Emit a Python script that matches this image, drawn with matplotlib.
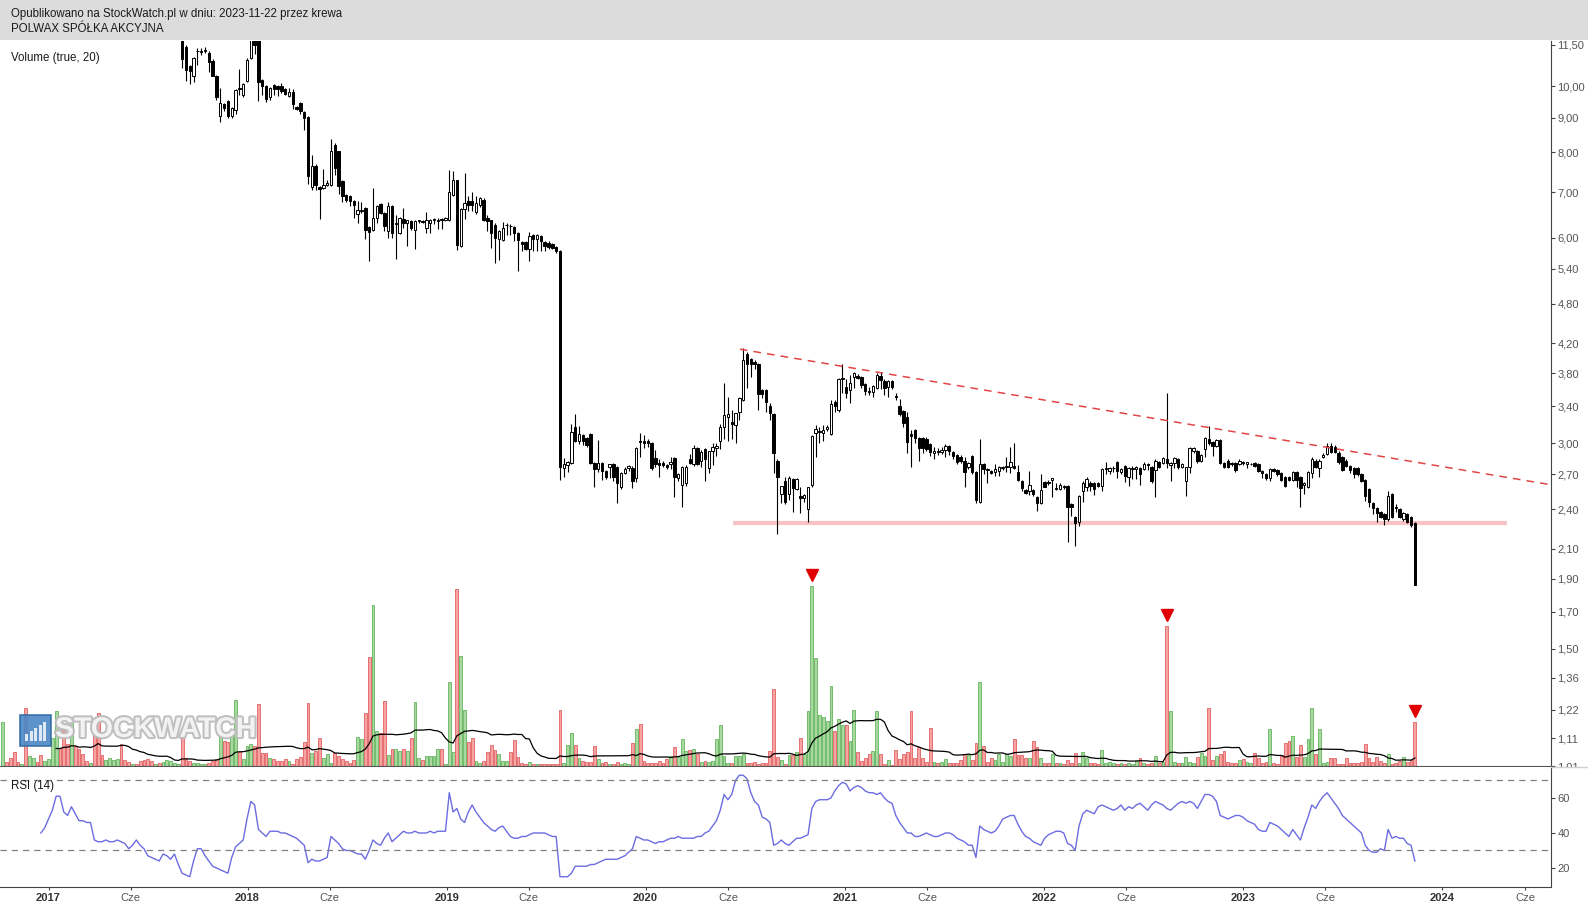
import matplotlib
matplotlib.use("Agg")
import matplotlib.pyplot as plt
import matplotlib.dates as mdates
import matplotlib.patheffects as pe
from matplotlib.patches import Rectangle
from matplotlib.lines import Line2D
from matplotlib.ticker import NullLocator
import numpy as np
import pandas as pd

plt.rcParams['font.family'] = ['Liberation Sans', 'DejaVu Sans']

W, H = 1588, 905

# -----------------------------
# Data (weekly bars)
# -----------------------------
week_dates = pd.date_range('2016-10-09', periods=371, freq='7D')

# volume of every week (bar height units)
volumes = [
    44, 4, 8, 14, 4, 2, 58, 10, 8, 4,
    11, 5, 7, 28, 55, 18, 37, 22, 44, 20,
    17, 12, 5, 3, 32, 53, 11, 6, 8, 6,
    7, 22, 6, 4, 2, 2, 5, 6, 7, 5,
    2, 3, 4, 6, 5, 3, 2, 37, 8, 5,
    3, 3, 2, 2, 3, 5, 7, 33, 25, 24,
    32, 66, 14, 7, 20, 22, 20, 62, 13, 13,
    8, 7, 5, 5, 7, 5, 2, 7, 9, 24,
    63, 13, 15, 28, 8, 12, 3, 13, 10, 7,
    5, 3, 6, 29, 27, 53, 109, 161, 35, 33,
    65, 11, 17, 17, 15, 17, 15, 28, 64, 8,
    6, 10, 10, 10, 17, 17, 2, 84, 14, 177,
    110, 56, 24, 28, 5, 3, 5, 14, 21, 16,
    12, 5, 5, 14, 26, 9, 3, 2, 4, 2,
    2, 2, 2, 2, 2, 2, 56, 3, 21, 33,
    21, 8, 5, 4, 4, 20, 7, 3, 4, 2,
    2, 4, 2, 3, 2, 23, 37, 42, 5, 3,
    3, 3, 5, 3, 7, 10, 19, 9, 27, 15,
    16, 17, 12, 4, 5, 4, 5, 27, 41, 10,
    3, 3, 10, 10, 12, 3, 3, 4, 2, 3,
    3, 15, 77, 9, 6, 2, 11, 11, 14, 28,
    12, 55, 180, 108, 51, 49, 45, 80, 35, 47,
    41, 41, 25, 56, 14, 5, 8, 12, 15, 55,
    12, 2, 6, 1, 16, 7, 12, 14, 55, 8,
    19, 8, 4, 38, 4, 3, 4, 7, 3, 3,
    3, 6, 12, 11, 6, 23, 84, 20, 4, 8,
    6, 12, 4, 12, 10, 27, 11, 11, 8, 8,
    25, 19, 8, 3, 3, 12, 3, 3, 2, 6,
    3, 13, 3, 14, 8, 3, 3, 2, 16, 3,
    4, 3, 2, 3, 2, 3, 2, 5, 8, 3,
    2, 3, 10, 3, 4, 140, 55, 4, 3, 3,
    9, 4, 3, 9, 13, 10, 58, 6, 10, 12,
    15, 4, 3, 3, 6, 7, 4, 3, 13, 8,
    3, 4, 37, 3, 2, 11, 23, 25, 30, 9,
    21, 9, 27, 58, 12, 37, 3, 4, 8, 8,
    2, 2, 8, 3, 3, 3, 4, 22, 8, 4,
    9, 5, 3, 12, 2, 3, 5, 9, 4, 6,
    44,
]
# direction of the weeks before the first visible candle
early_dirs = "GRRRRGRGGRRGGGGRRRGRRRRGRRRGGGGRRRGRRRRRGRGGGGG"
alert_weeks = [212, 305, 370]

# candles, visible from week 47 on
price_start = 47
opens = [
    11.90, 11.40, 10.71, 10.34, 11.25, 11.24, 11.28, 11.18, 10.90, 10.37,
    9.06, 9.42, 9.50, 9.06, 9.24, 9.93, 9.70, 10.19, 11.00, 11.90,
    11.80, 10.22, 10.02, 9.63, 10.05, 10.02, 10.02, 9.91, 9.67, 9.80,
    9.32, 9.45, 9.17, 9.03, 7.13, 7.65, 7.12, 7.09, 7.17, 7.17,
    8.21, 8.03, 7.27, 6.93, 6.91, 6.80, 6.51, 6.56, 6.63, 6.22,
    6.16, 6.41, 6.73, 6.52, 6.14, 6.68, 6.28, 6.10, 6.39, 6.30,
    6.34, 6.16, 6.34, 6.34, 6.20, 6.30, 6.36, 6.35, 6.40, 6.38,
    6.36, 6.92, 7.28, 5.84, 6.62, 6.80, 6.80, 6.54, 6.70, 6.82,
    6.41, 6.36, 6.27, 5.98, 5.96, 6.26, 6.25, 6.22, 6.10, 5.91,
    5.91, 5.77, 6.06, 5.98, 6.03, 5.91, 5.89, 5.88, 5.81, 5.73,
    2.76, 2.79, 2.81, 3.17, 3.02, 3.08, 3.05, 3.10, 2.81, 2.75,
    2.81, 2.73, 2.77, 2.80, 2.77, 2.59, 2.71, 2.76, 2.76, 2.67,
    3.02, 3.02, 3.02, 3.00, 2.85, 2.81, 2.81, 2.79, 2.80, 2.85,
    2.67, 2.61, 2.62, 2.84, 2.80, 2.95, 2.83, 2.94, 2.76, 2.92,
    2.95, 3.02, 3.17, 3.28, 3.22, 3.19, 3.33, 3.47, 4.06, 3.98,
    3.95, 3.92, 3.59, 3.59, 3.40, 3.31, 2.83, 2.53, 2.64, 2.53,
    2.66, 2.57, 2.51, 2.49, 2.40, 2.61, 3.11, 3.12, 3.11, 3.15,
    3.10, 3.45, 3.36, 3.72, 3.63, 3.59, 3.75, 3.76, 3.75, 3.66,
    3.58, 3.56, 3.62, 3.77, 3.70, 3.63, 3.70, 3.52, 3.40, 3.35,
    3.28, 3.09, 3.14, 3.05, 3.05, 3.04, 2.99, 2.90, 2.92, 2.91,
    2.93, 2.97, 2.91, 2.88, 2.86, 2.83, 2.77, 2.87, 2.72, 2.46,
    2.80, 2.75, 2.73, 2.72, 2.73, 2.76, 2.77, 2.77, 2.78, 2.72,
    2.64, 2.56, 2.55, 2.56, 2.50, 2.45, 2.63, 2.63, 2.65, 2.58,
    2.57, 2.60, 2.60, 2.44, 2.34, 2.30, 2.55, 2.59, 2.62, 2.62,
    2.62, 2.60, 2.75, 2.73, 2.76, 2.82, 2.72, 2.78, 2.68, 2.75,
    2.75, 2.76, 2.75, 2.80, 2.77, 2.74, 2.82, 2.81, 2.84, 2.79,
    2.81, 2.84, 2.77, 2.64, 2.77, 2.92, 2.92, 2.83, 2.94, 3.04,
    3.01, 2.97, 3.03, 2.81, 2.83, 2.81, 2.81, 2.80, 2.82, 2.80,
    2.80, 2.81, 2.80, 2.73, 2.70, 2.67, 2.75, 2.74, 2.71, 2.68,
    2.68, 2.65, 2.72, 2.68, 2.61, 2.59, 2.71, 2.83, 2.76, 2.86,
    2.89, 2.97, 2.96, 2.90, 2.86, 2.83, 2.78, 2.76, 2.76, 2.70,
    2.65, 2.57, 2.45, 2.41, 2.38, 2.36, 2.32, 2.53, 2.42, 2.40,
    2.32, 2.36, 2.34, 2.29,
]
highs = [
    12.10, 11.50, 10.75, 11.05, 11.37, 11.37, 11.40, 11.25, 10.95, 10.40,
    9.94, 9.45, 9.55, 9.32, 9.90, 10.60, 10.10, 11.00, 12.00, 12.00,
    11.90, 10.25, 10.05, 9.96, 10.08, 10.04, 10.10, 9.93, 9.94, 9.92,
    9.35, 9.48, 9.20, 9.05, 7.94, 7.70, 7.15, 7.56, 7.30, 8.37,
    8.25, 8.05, 7.30, 6.95, 6.93, 6.82, 6.80, 6.78, 6.66, 6.25,
    7.09, 6.71, 6.75, 6.54, 6.78, 6.70, 6.48, 6.43, 6.63, 6.38,
    6.36, 6.37, 6.38, 6.36, 6.54, 6.40, 6.42, 6.42, 6.42, 6.44,
    7.54, 7.52, 7.30, 6.63, 7.47, 6.90, 7.01, 6.90, 6.88, 6.85,
    6.48, 6.38, 6.30, 6.16, 6.32, 6.31, 6.28, 6.24, 6.12, 5.93,
    5.93, 6.11, 6.08, 6.07, 6.05, 5.93, 5.93, 5.90, 5.83, 5.75,
    2.85, 2.83, 3.20, 3.31, 3.18, 3.09, 3.06, 3.11, 2.82, 3.03,
    2.82, 2.74, 2.80, 2.81, 2.78, 2.72, 2.77, 2.79, 2.78, 2.96,
    3.11, 3.08, 3.04, 3.01, 2.93, 2.84, 2.83, 2.80, 2.86, 2.86,
    2.71, 2.78, 2.79, 2.89, 2.98, 2.96, 2.93, 2.95, 2.92, 3.00,
    3.00, 3.20, 3.68, 3.51, 3.36, 3.32, 3.51, 4.14, 4.08, 4.00,
    3.97, 3.93, 3.60, 3.60, 3.44, 3.32, 2.84, 2.60, 2.68, 2.69,
    2.67, 2.67, 2.59, 2.53, 2.59, 3.08, 3.19, 3.17, 3.19, 3.19,
    3.47, 3.47, 3.74, 3.92, 3.72, 3.78, 3.82, 3.79, 3.77, 3.68,
    3.63, 3.65, 3.80, 3.81, 3.73, 3.71, 3.71, 3.55, 3.48, 3.36,
    3.33, 3.14, 3.15, 3.06, 3.06, 3.06, 3.00, 2.96, 2.95, 2.96,
    2.99, 2.98, 2.92, 2.89, 2.88, 2.86, 2.82, 2.88, 2.73, 3.04,
    2.81, 2.76, 2.74, 2.80, 2.78, 2.78, 2.86, 2.96, 3.00, 2.79,
    2.65, 2.57, 2.73, 2.57, 2.51, 2.70, 2.64, 2.65, 2.67, 2.62,
    2.62, 2.61, 2.61, 2.45, 2.35, 2.52, 2.64, 2.68, 2.64, 2.63,
    2.63, 2.76, 2.82, 2.77, 2.78, 2.83, 2.76, 2.79, 2.77, 2.78,
    2.78, 2.77, 2.82, 2.81, 2.78, 2.84, 2.83, 2.86, 3.55, 2.82,
    2.86, 2.85, 2.81, 2.77, 2.96, 2.96, 2.93, 2.89, 3.06, 3.18,
    3.02, 3.04, 3.04, 2.82, 2.84, 2.82, 2.82, 2.84, 2.83, 2.82,
    2.81, 2.82, 2.81, 2.74, 2.71, 2.76, 2.76, 2.75, 2.72, 2.69,
    2.69, 2.73, 2.73, 2.69, 2.63, 2.73, 2.86, 2.84, 2.84, 2.90,
    3.00, 3.00, 2.98, 2.92, 2.87, 2.84, 2.79, 2.77, 2.77, 2.71,
    2.66, 2.58, 2.46, 2.42, 2.39, 2.37, 2.55, 2.54, 2.44, 2.41,
    2.38, 2.37, 2.35, 2.30,
]
lows = [
    10.65, 10.18, 10.09, 10.16, 10.75, 11.12, 11.18, 10.48, 10.34, 9.56,
    8.88, 9.20, 9.00, 9.00, 9.10, 9.72, 9.65, 10.15, 10.95, 11.15,
    9.50, 9.72, 9.47, 9.55, 9.72, 9.67, 9.78, 9.70, 9.64, 9.27,
    9.22, 9.10, 8.64, 7.20, 7.05, 7.05, 6.39, 7.07, 7.15, 7.15,
    7.42, 6.96, 6.78, 6.78, 6.67, 6.41, 6.30, 6.52, 5.98, 5.54,
    6.14, 6.30, 6.50, 6.13, 6.00, 6.00, 5.59, 6.08, 6.20, 5.83,
    6.15, 5.78, 6.30, 6.30, 6.10, 6.10, 6.28, 6.17, 6.17, 6.34,
    6.34, 6.90, 5.76, 5.82, 6.40, 6.56, 6.56, 6.49, 6.65, 6.34,
    6.13, 5.80, 5.51, 5.57, 5.94, 6.06, 6.06, 5.93, 5.36, 5.73,
    5.76, 5.55, 5.73, 5.73, 5.74, 5.73, 5.78, 5.77, 5.70, 2.65,
    2.68, 2.72, 2.80, 3.01, 2.99, 2.98, 2.96, 2.80, 2.59, 2.72,
    2.65, 2.66, 2.67, 2.64, 2.45, 2.57, 2.70, 2.73, 2.58, 2.63,
    2.86, 2.95, 2.96, 2.74, 2.77, 2.68, 2.77, 2.75, 2.75, 2.50,
    2.64, 2.42, 2.60, 2.80, 2.78, 2.79, 2.77, 2.64, 2.71, 2.79,
    2.87, 2.94, 3.04, 3.02, 3.04, 3.00, 3.24, 3.46, 3.61, 3.75,
    3.85, 3.36, 3.50, 3.33, 3.24, 2.71, 2.21, 2.45, 2.44, 2.48,
    2.38, 2.56, 2.37, 2.46, 2.30, 2.59, 2.86, 3.00, 3.02, 3.13,
    3.08, 3.33, 3.33, 3.55, 3.50, 3.44, 3.62, 3.73, 3.62, 3.53,
    3.53, 3.51, 3.60, 3.60, 3.53, 3.51, 3.60, 3.47, 3.29, 3.17,
    2.90, 2.77, 3.00, 2.83, 2.90, 2.92, 2.87, 2.84, 2.88, 2.89,
    2.86, 2.88, 2.84, 2.80, 2.81, 2.59, 2.75, 2.70, 2.45, 2.45,
    2.70, 2.62, 2.70, 2.69, 2.69, 2.74, 2.72, 2.71, 2.75, 2.64,
    2.55, 2.53, 2.52, 2.51, 2.39, 2.44, 2.59, 2.61, 2.50, 2.56,
    2.56, 2.57, 2.15, 2.35, 2.12, 2.27, 2.46, 2.55, 2.55, 2.52,
    2.59, 2.55, 2.70, 2.70, 2.72, 2.67, 2.70, 2.63, 2.60, 2.66,
    2.66, 2.61, 2.74, 2.74, 2.62, 2.50, 2.76, 2.80, 2.76, 2.64,
    2.76, 2.75, 2.76, 2.51, 2.71, 2.90, 2.81, 2.82, 2.86, 2.98,
    2.87, 2.96, 2.80, 2.76, 2.76, 2.78, 2.72, 2.79, 2.79, 2.76,
    2.79, 2.77, 2.72, 2.67, 2.65, 2.64, 2.72, 2.69, 2.64, 2.59,
    2.64, 2.64, 2.59, 2.42, 2.53, 2.58, 2.67, 2.76, 2.68, 2.85,
    2.88, 2.90, 2.90, 2.80, 2.73, 2.77, 2.71, 2.67, 2.69, 2.63,
    2.47, 2.42, 2.36, 2.30, 2.33, 2.28, 2.31, 2.33, 2.38, 2.33,
    2.31, 2.29, 2.26, 1.86,
]
closes = [
    10.97, 10.57, 10.53, 11.00, 11.27, 11.25, 11.30, 10.84, 10.37, 9.63,
    9.45, 9.29, 9.06, 9.29, 9.88, 9.90, 10.07, 10.93, 11.90, 11.50,
    10.16, 10.02, 9.58, 9.94, 9.91, 9.91, 9.85, 9.74, 9.80, 9.43,
    9.27, 9.19, 9.00, 7.38, 7.63, 7.17, 7.08, 7.17, 7.22, 8.05,
    7.58, 7.15, 6.90, 6.82, 6.80, 6.70, 6.58, 6.59, 6.16, 6.11,
    6.41, 6.67, 6.52, 6.25, 6.68, 6.10, 6.30, 6.41, 6.30, 6.36,
    6.19, 6.34, 6.36, 6.32, 6.36, 6.38, 6.40, 6.38, 6.38, 6.41,
    7.01, 7.28, 5.86, 6.61, 6.74, 6.71, 6.70, 6.75, 6.86, 6.38,
    6.34, 6.10, 5.99, 6.14, 6.20, 6.27, 6.24, 6.10, 5.96, 5.88,
    5.77, 6.04, 5.98, 6.05, 5.93, 5.84, 5.81, 5.79, 5.73, 2.77,
    2.80, 2.82, 3.12, 3.02, 3.09, 3.02, 2.98, 2.81, 2.75, 2.81,
    2.73, 2.68, 2.80, 2.68, 2.62, 2.71, 2.75, 2.78, 2.64, 2.95,
    3.01, 3.00, 3.00, 2.76, 2.80, 2.79, 2.79, 2.77, 2.82, 2.68,
    2.70, 2.77, 2.77, 2.81, 2.95, 2.80, 2.91, 2.84, 2.92, 2.96,
    2.97, 3.17, 3.30, 3.31, 3.20, 3.32, 3.49, 3.97, 3.92, 3.92,
    3.92, 3.54, 3.54, 3.45, 3.32, 2.90, 2.68, 2.60, 2.46, 2.67,
    2.58, 2.66, 2.49, 2.52, 2.59, 3.07, 3.15, 3.13, 3.14, 3.17,
    3.43, 3.40, 3.72, 3.74, 3.55, 3.68, 3.80, 3.74, 3.65, 3.58,
    3.57, 3.64, 3.78, 3.71, 3.62, 3.70, 3.63, 3.51, 3.31, 3.21,
    3.01, 3.07, 3.05, 2.95, 2.95, 2.94, 2.91, 2.92, 2.91, 2.93,
    2.97, 2.92, 2.87, 2.82, 2.83, 2.72, 2.81, 2.72, 2.48, 2.80,
    2.75, 2.74, 2.71, 2.75, 2.77, 2.77, 2.78, 2.82, 2.76, 2.65,
    2.58, 2.54, 2.61, 2.53, 2.45, 2.56, 2.59, 2.62, 2.67, 2.57,
    2.61, 2.59, 2.42, 2.42, 2.29, 2.51, 2.62, 2.66, 2.60, 2.57,
    2.60, 2.75, 2.76, 2.76, 2.76, 2.73, 2.75, 2.69, 2.76, 2.76,
    2.77, 2.70, 2.80, 2.79, 2.64, 2.83, 2.77, 2.85, 2.81, 2.81,
    2.85, 2.77, 2.80, 2.77, 2.95, 2.95, 2.83, 2.88, 3.05, 3.00,
    2.97, 3.03, 2.81, 2.77, 2.77, 2.80, 2.74, 2.83, 2.81, 2.82,
    2.80, 2.78, 2.73, 2.71, 2.67, 2.75, 2.73, 2.70, 2.65, 2.60,
    2.65, 2.72, 2.65, 2.58, 2.62, 2.72, 2.84, 2.77, 2.83, 2.88,
    2.97, 2.91, 2.91, 2.82, 2.74, 2.78, 2.74, 2.70, 2.70, 2.64,
    2.51, 2.46, 2.41, 2.37, 2.34, 2.32, 2.51, 2.34, 2.41, 2.34,
    2.37, 2.30, 2.28, 1.86,
]

# RSI(14), from week 10 on
rsi_start = 10
rsi = [
    40, 43, 48, 53, 61, 61, 52, 50, 55, 51,
    47, 47, 46, 46, 36, 35, 35, 36, 35, 35,
    36, 35, 34, 31, 33, 36, 33, 31, 27, 26,
    25, 24, 28, 27, 25, 28, 22, 17, 16, 15,
    24, 31, 31, 27, 24, 21, 20, 19, 18, 17,
    26, 32, 34, 36, 48, 58, 56, 42, 40, 38,
    41, 41, 41, 40, 40, 39, 38, 37, 35, 33,
    23, 25, 24, 24, 25, 26, 38, 36, 34, 31,
    30, 30, 29, 28, 28, 25, 30, 36, 34, 33,
    37, 40, 35, 37, 39, 41, 40, 40, 41, 40,
    40, 40, 41, 40, 41, 41, 41, 63, 52, 54,
    48, 46, 52, 56, 52, 49, 46, 44, 42, 41,
    43, 44, 41, 38, 37, 37, 38, 38, 39, 40,
    40, 40, 40, 39, 38, 38, 15, 15, 15, 17,
    21, 21, 21, 21, 22, 22, 23, 24, 25, 25,
    25, 25, 26, 27, 29, 31, 38, 37, 36, 36,
    35, 34, 35, 35, 36, 37, 37, 38, 37, 37,
    37, 37, 38, 38, 40, 41, 44, 47, 53, 62,
    59, 62, 70, 73, 73, 71, 63, 58, 56, 49,
    48, 46, 33, 34, 36, 34, 33, 35, 37, 37,
    38, 39, 54, 58, 59, 59, 59, 60, 64, 67,
    69, 68, 64, 66, 67, 66, 64, 63, 63, 62,
    63, 60, 58, 57, 50, 46, 43, 40, 40, 38,
    38, 39, 40, 39, 38, 38, 39, 40, 40, 39,
    37, 36, 35, 33, 33, 26, 44, 42, 41, 40,
    41, 44, 48, 49, 50, 50, 45, 41, 38, 37,
    35, 34, 33, 37, 39, 40, 41, 41, 40, 34,
    33, 30, 44, 51, 53, 52, 51, 55, 56, 55,
    54, 53, 54, 56, 53, 55, 54, 56, 57, 55,
    53, 56, 58, 57, 56, 54, 53, 55, 57, 58,
    57, 58, 57, 54, 58, 62, 62, 61, 58, 50,
    49, 48, 49, 50, 50, 49, 47, 46, 45, 42,
    41, 41, 46, 45, 44, 42, 40, 38, 42, 39,
    36, 43, 49, 56, 54, 58, 61, 63, 60, 57,
    54, 50, 48, 46, 44, 42, 40, 33, 30, 29,
    29, 31, 30, 42, 37, 38, 37, 37, 34, 33, 24,
]

# drawn lines: falling resistance and support
trend_dates = ['2020-06-22', '2024-07-16']
trend_prices = [4.12, 2.61]
support_dates = ['2020-06-10', '2024-04-29']
support_prices = [2.293, 2.293]

price_ticks = [1.01, 1.11, 1.22, 1.36, 1.50, 1.70, 1.90, 2.10, 2.40, 2.70, 3.00,
               3.40, 3.80, 4.20, 4.80, 5.40, 6.00, 7.00, 8.00, 9.00, 10.00, 11.50]
rsi_ticks = [20, 40, 60]
year_labels = ['2017', '2018', '2019', '2020', '2021', '2022', '2023', '2024']
month_labels = ['Cze'] * 8

header_1 = "Opublikowano na StockWatch.pl w dniu: 2023-11-22 przez krewa"
header_2 = "POLWAX SPÓŁKA AKCYJNA"

# -----------------------------
# Layout
# -----------------------------
def fig_box(x0, y0, x1, y1):
    return [x0 / W, 1 - y1 / H, (x1 - x0) / W, (y1 - y0) / H]

fig = plt.figure(figsize=(W / 100, H / 100), dpi=100)
fig.patch.set_facecolor('white')

ax_v = fig.add_axes(fig_box(0, 40.5, 1551, 766), zorder=1)
ax_p = fig.add_axes(fig_box(0, 40.5, 1551, 766), zorder=2)
ax_r = fig.add_axes(fig_box(0, 767, 1551, 887), zorder=3)
ax_p.patch.set_visible(False)

x_all = mdates.date2num(week_dates)
xlim = (mdates.date2num(pd.Timestamp('2016-10-04')),
        mdates.date2num(pd.Timestamp('2024-07-18 16:00')))
for ax in (ax_v, ax_p, ax_r):
    ax.set_xlim(*xlim)

# -----------------------------
# Volume
# -----------------------------
o = np.array(opens)
h = np.array(highs)
l = np.array(lows)
c = np.array(closes)
up = c >= o
vol = np.array(volumes, dtype=float)
vol_up = np.array([d == 'G' for d in early_dirs] + list(up))

ax_v.bar(x_all[vol_up], vol[vol_up], width=5.2, color='#a9d9a1',
         edgecolor='#62b45c', linewidth=0.6, zorder=2)
ax_v.bar(x_all[~vol_up], vol[~vol_up], width=5.2, color='#f6a3a3',
         edgecolor='#e26262', linewidth=0.6, zorder=2)
vol_ma = pd.Series(vol).rolling(20, min_periods=15).mean()
ax_v.plot(x_all, vol_ma, color='black', lw=0.9, zorder=3)
ax_v.plot(x_all[alert_weeks], vol[alert_weeks] + 11, ls='none', marker='v',
          ms=9, color='#e00000', zorder=4)
ax_v.set_ylim(0, 725.5)
ax_v.axis('off')

# -----------------------------
# Candles
# -----------------------------
xp = x_all[price_start:price_start + len(closes)]
ax_p.set_yscale('log')
ax_p.plot(mdates.date2num(pd.to_datetime(support_dates)), support_prices,
          color='#f9c3c3', lw=3.0, solid_capstyle='butt', zorder=1)
ax_p.vlines(xp, l, h, color='black', lw=0.8, zorder=2)
lo = np.minimum(o, c)
hi = np.maximum(o, c)
ax_p.bar(xp[up], hi[up] - lo[up], bottom=lo[up], width=4.4, color='white',
         edgecolor='black', linewidth=0.7, zorder=3)
ax_p.bar(xp[~up], hi[~up] - lo[~up], bottom=lo[~up], width=4.4, color='black',
         edgecolor='black', linewidth=0.7, zorder=3)
ax_p.plot(mdates.date2num(pd.to_datetime(trend_dates)), trend_prices,
          color='#e04646', lw=1.1, ls=(0, (5, 4)), zorder=4)

ax_p.set_ylim(1.01, 11.67)
ax_p.yaxis.tick_right()
ax_p.set_yticks(price_ticks)
ax_p.set_yticklabels([f"{v:.2f}".replace('.', ',') for v in price_ticks])
ax_p.yaxis.set_minor_locator(NullLocator())
ax_p.tick_params(axis='y', which='major', direction='out', length=3, width=0.8,
                 color='#444444', labelcolor='#555555', labelsize=8, pad=1.5)
ax_p.tick_params(axis='x', which='both', bottom=False, labelbottom=False)
for side in ('top', 'left'):
    ax_p.spines[side].set_visible(False)
ax_p.spines['right'].set_color('#444444')
ax_p.spines['bottom'].set_color('#555555')

# -----------------------------
# RSI
# -----------------------------
xr = x_all[rsi_start:rsi_start + len(rsi)]
ax_r.plot(xr, rsi, color='#6c6ce2', lw=1.0)
for lvl in (70, 30):
    ax_r.axhline(lvl, color='#808080', lw=0.9, ls=(0, (5, 4)))
ax_r.set_ylim(9.14, 77.7)
ax_r.yaxis.tick_right()
ax_r.set_yticks(rsi_ticks)
ax_r.set_yticklabels([str(v) for v in rsi_ticks])
ax_r.tick_params(axis='y', direction='out', length=3, width=0.8, color='#444444',
                 labelcolor='#555555', labelsize=8, pad=1.5)

year_pos = mdates.date2num(pd.to_datetime([f'{y}-01-01' for y in year_labels]))
june_pos = mdates.date2num(pd.to_datetime([f'{y}-06-01' for y in year_labels]))
ax_r.set_xticks(year_pos)
ax_r.set_xticklabels(year_labels, fontweight='bold', color='#333333', fontsize=8)
ax_r.set_xticks(june_pos, minor=True)
ax_r.set_xticklabels(month_labels, minor=True, color='#555555', fontsize=8)
ax_r.tick_params(axis='x', which='both', direction='out', length=2.5, width=0.8,
                 color='#444444', pad=1.8)
for side in ('top', 'left'):
    ax_r.spines[side].set_visible(False)
ax_r.spines['right'].set_color('#444444')
ax_r.spines['bottom'].set_color('#444444')

# hide lower half of the "1,01" label and draw the panel separator
fig.patches.append(Rectangle((1551.5 / W, 0), 1 - 1551.5 / W, 1 - 766.5 / H,
                             transform=fig.transFigure, facecolor='white',
                             edgecolor='none', zorder=2.5))
fig.lines.append(Line2D([1551 / W, 1], [1 - 766.5 / H] * 2, transform=fig.transFigure,
                        color='#d0d0d0', lw=1, zorder=4))

# -----------------------------
# Header, labels, watermark
# -----------------------------
fig.patches.append(Rectangle((0, 1 - 40.5 / H), 1, 40.5 / H, transform=fig.transFigure,
                             facecolor='#dcdcdc', edgecolor='none', zorder=5))
label_kw = dict(fontsize=8.3, color='#1a1a1a', va='baseline', ha='left', zorder=6)
fig.text(11 / W, 1 - 16.5 / H, header_1, **label_kw)
fig.text(11 / W, 1 - 31.5 / H, header_2, **label_kw)
fig.text(11 / W, 1 - 61.5 / H, "Volume (true, 20)", **label_kw)
fig.text(11 / W, 1 - 788.5 / H, "RSI (14)", **label_kw)

# logo square with little bars
fig.patches.append(Rectangle((20 / W, 1 - 746 / H), 31 / W, 31 / H,
                             transform=fig.transFigure, facecolor='#4a87c6',
                             edgecolor='#2f69a3', lw=1.2, alpha=0.9, zorder=2.2))
for k, bh in enumerate([7, 10, 13, 16, 19]):
    fig.patches.append(Rectangle(((25 + 4.6 * k) / W, 1 - 741 / H), 3 / W, bh / H,
                                 transform=fig.transFigure, facecolor='#dfe9f5',
                                 edgecolor='none', zorder=2.3))
fig.text(55 / W, 1 - 730 / H, "STOCKWATCH", fontsize=20.5, fontweight='bold',
         color='#f5f5f5', va='center', ha='left', alpha=0.95, zorder=2.4,
         path_effects=[pe.withStroke(linewidth=3, foreground='#bdbdbd')])

fig.savefig('out.png', dpi=100, facecolor='white')
